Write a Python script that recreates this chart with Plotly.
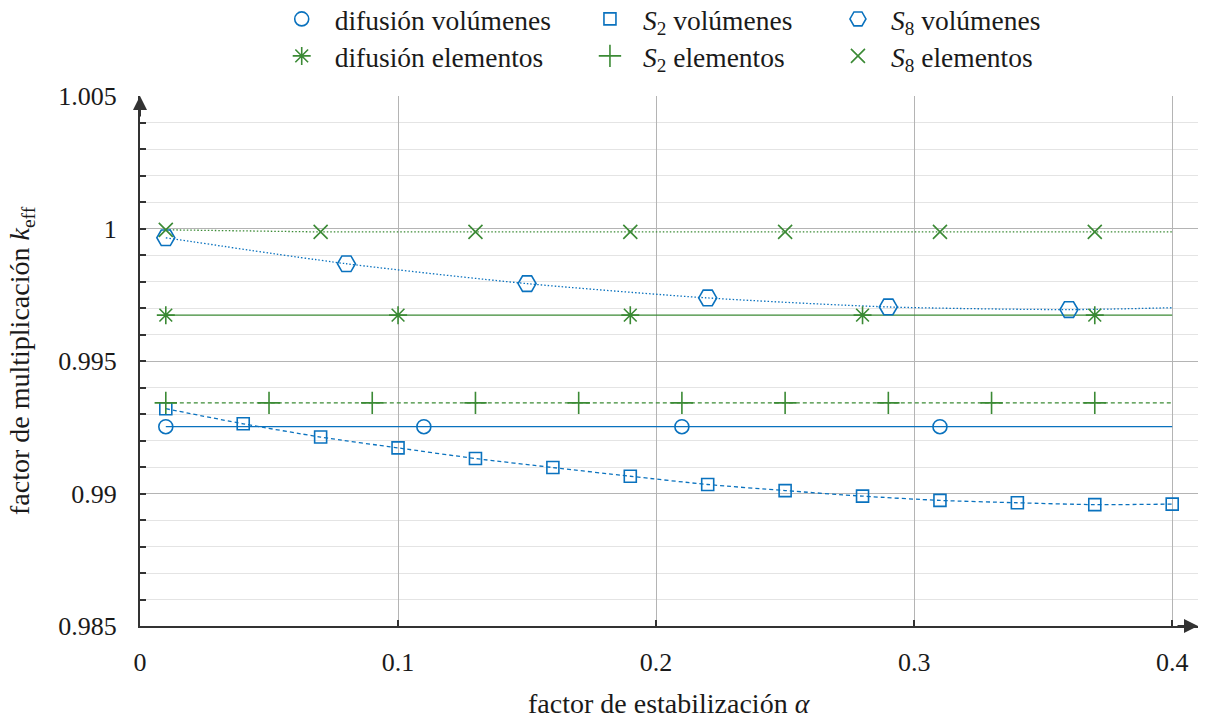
import plotly.graph_objects as go

# ---- data -------------------------------------------------------------
x_dif_vol = [0.01, 0.11, 0.21, 0.31]
y_dif_vol = [0.99252, 0.99252, 0.99252, 0.99252]
x_dif_vol_line = [0.01, 0.40]
y_dif_vol_line = [0.99252, 0.99252]

x_dif_elem = [0.01, 0.10, 0.19, 0.28, 0.37]
y_dif_elem = [0.99673, 0.99673, 0.99673, 0.99673, 0.99673]
x_dif_elem_line = [0.01, 0.40]
y_dif_elem_line = [0.99673, 0.99673]

x_s2_vol = [0.01, 0.04, 0.07, 0.10, 0.13, 0.16, 0.19, 0.22, 0.25, 0.28, 0.31, 0.34, 0.37, 0.40]
y_s2_vol = [0.99320, 0.99263, 0.99213, 0.99172, 0.99132, 0.99098, 0.99065,
            0.99034, 0.99011, 0.98990, 0.98974, 0.98965, 0.98958, 0.98960]

x_s2_elem = [0.01, 0.05, 0.09, 0.13, 0.17, 0.21, 0.25, 0.29, 0.33, 0.37]
y_s2_elem = [0.99342] * 10
x_s2_elem_line = [0.01, 0.40]
y_s2_elem_line = [0.99342, 0.99342]

x_s8_vol = [0.01, 0.08, 0.15, 0.22, 0.29, 0.36]
y_s8_vol = [0.99965, 0.99867, 0.99792, 0.99738, 0.99704, 0.99694]
x_s8_vol_line = [0.01, 0.08, 0.15, 0.22, 0.29, 0.36, 0.40]
y_s8_vol_line = [0.99965, 0.99867, 0.99792, 0.99738, 0.99704, 0.99694, 0.99701]

x_s8_elem = [0.01, 0.07, 0.13, 0.19, 0.25, 0.31, 0.37]
y_s8_elem = [0.99995, 0.99987, 0.99987, 0.99987, 0.99987, 0.99987, 0.99987]
x_s8_elem_line = [0.01, 0.07, 0.40]
y_s8_elem_line = [0.99995, 0.99987, 0.99987]

x_tickvals = [0, 0.1, 0.2, 0.3, 0.4]
x_ticktext = ["0", "0.1", "0.2", "0.3", "0.4"]
y_tickvals = [0.985, 0.99, 0.995, 1.0, 1.005]
y_ticktext = ["0.985", "0.99", "0.995", "1", "1.005"]

x_title = "factor de estabilización <i>α</i>"
y_title = "factor de multiplicación <i>k</i><sub>eff</sub>"

# ---- style ------------------------------------------------------------
BLUE = "#0a72be"
GREEN = "#3b8a35"
FONT = "Liberation Serif, Times New Roman, serif"
FS = 26
FS_LEG = 27.5
FS_TITLE = 28
LW = 1.3
TEXT = "#1a1a1a"
AXIS_COLOR = "#333333"

fig = go.Figure()


def line(x, y, color, dash, spline=False):
    fig.add_trace(go.Scatter(
        x=x, y=y, mode="lines", showlegend=False, hoverinfo="skip",
        line=dict(color=color, width=LW, dash=dash,
                  shape="spline" if spline else "linear", smoothing=0.7),
    ))


def marks(x, y, color, symbol, size, name, legend):
    fig.add_trace(go.Scatter(
        x=x, y=y, mode="markers", name=name, legend=legend,
        marker=dict(symbol=symbol, size=size, color=color,
                    line=dict(color=color, width=1.6)),
    ))


# connecting lines
line(x_dif_vol_line, y_dif_vol_line, BLUE, "solid")
line(x_dif_elem_line, y_dif_elem_line, GREEN, "solid")
line(x_s2_vol, y_s2_vol, BLUE, "4px,3px", spline=True)
line(x_s2_elem_line, y_s2_elem_line, GREEN, "4px,3px")
line(x_s8_vol_line, y_s8_vol_line, BLUE, "1.5px,2px", spline=True)
line(x_s8_elem_line, y_s8_elem_line, GREEN, "1.5px,2px")

# markers, each with its own legend box (3 columns x 2 rows)
marks(x_dif_vol, y_dif_vol, BLUE, "circle-open", 14, "difusión volúmenes", "legend")
marks(x_s2_vol, y_s2_vol, BLUE, "square-open", 12, "<i>S</i><sub>2</sub> volúmenes", "legend2")
marks(x_s8_vol, y_s8_vol, BLUE, "hexagon2-open", 18, "<i>S</i><sub>8</sub> volúmenes", "legend3")
marks(x_dif_elem, y_dif_elem, GREEN, "asterisk-open", 15, "difusión elementos", "legend4")
marks(x_s2_elem, y_s2_elem, GREEN, "cross-thin-open", 16, "<i>S</i><sub>2</sub> elementos", "legend5")
marks(x_s8_elem, y_s8_elem, GREEN, "x-thin-open", 14, "<i>S</i><sub>8</sub> elementos", "legend6")


def legend_at(x, y):
    return dict(
        orientation="v", xref="container", yref="container",
        x=x, y=y, xanchor="left", yanchor="middle",
        font=dict(family=FONT, size=FS_LEG, color=TEXT),
        bgcolor="rgba(0,0,0,0)", itemwidth=56, tracegroupgap=0,
    )


col_x = [0.2230, 0.4788, 0.6846]
row_y = [0.9735, 0.922]

fig.update_layout(
    width=1205, height=718,
    margin=dict(l=140, r=7, t=96, b=92, autoexpand=False),
    paper_bgcolor="white", plot_bgcolor="white",
    font=dict(family=FONT, size=FS, color=TEXT),
    legend=legend_at(col_x[0], row_y[0]),
    legend2=legend_at(col_x[1], row_y[0]),
    legend3=legend_at(col_x[2], row_y[0]),
    legend4=legend_at(col_x[0], row_y[1]),
    legend5=legend_at(col_x[1], row_y[1]),
    legend6=legend_at(col_x[2], row_y[1]),
    xaxis=dict(
        range=[0, 0.41], tickvals=x_tickvals, ticktext=x_ticktext,
        showgrid=True, gridcolor="#b4b4b4", gridwidth=1.2,
        ticks="inside", ticklen=6, tickwidth=1.5, tickcolor=AXIS_COLOR,
        showline=True, linecolor=AXIS_COLOR, linewidth=2,
        zeroline=False, ticklabelstandoff=12,
        tickfont=dict(family=FONT, size=FS, color=TEXT),
    ),
    yaxis=dict(
        range=[0.985, 1.005], tickvals=y_tickvals, ticktext=y_ticktext,
        showgrid=True, gridcolor="#b4b4b4", gridwidth=1.2,
        ticks="inside", ticklen=6, tickwidth=1.5, tickcolor=AXIS_COLOR,
        showline=True, linecolor=AXIS_COLOR, linewidth=2,
        zeroline=False, ticklabelstandoff=16,
        tickfont=dict(family=FONT, size=FS, color=TEXT),
        minor=dict(dtick=0.001, showgrid=True, gridcolor="#e4e4e4", gridwidth=1.2,
                   ticks="inside", ticklen=6, tickwidth=1.5, tickcolor=AXIS_COLOR),
    ),
)

# axis titles (plot area spans 140..1198 px horizontally, 96..626 px vertically)
fig.add_annotation(text=x_title, xref="paper", yref="paper", x=0.5, y=(626 - 703) / 530,
                   xanchor="center", yanchor="middle", showarrow=False,
                   font=dict(family=FONT, size=FS_TITLE, color=TEXT))
fig.add_annotation(text=y_title, xref="paper", yref="paper", x=(21 - 140) / 1058, y=0.5,
                   xanchor="center", yanchor="middle", showarrow=False, textangle=-90,
                   font=dict(family=FONT, size=FS_TITLE, color=TEXT))

# arrow heads on both axes
fig.add_annotation(x=1, y=0, xref="paper", yref="paper", ax=-22, ay=0,
                   showarrow=True, arrowhead=2, arrowsize=1.4, arrowwidth=2,
                   arrowcolor=AXIS_COLOR, text="", standoff=0)
fig.add_annotation(x=0, y=1, xref="paper", yref="paper", ax=0, ay=22,
                   showarrow=True, arrowhead=2, arrowsize=1.4, arrowwidth=2,
                   arrowcolor=AXIS_COLOR, text="", standoff=0)

fig.write_html("out.html")
